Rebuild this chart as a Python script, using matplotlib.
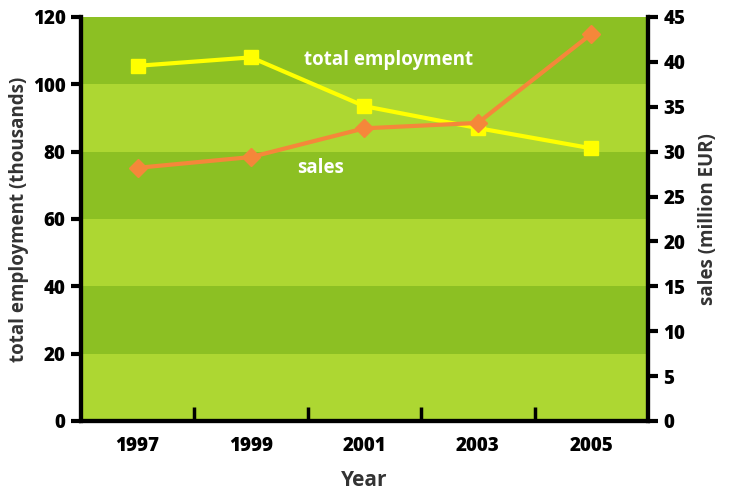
import matplotlib
matplotlib.use("Agg")
import matplotlib.pyplot as plt
import numpy as np

plt.rcParams['font.family'] = ['Open Sans', 'DejaVu Sans']

years = ["1997", "1999", "2001", "2003", "2005"]
employment = [105.5, 108.0, 93.5, 87.0, 81.0]      # thousands
sales = [28.2, 29.4, 32.6, 33.2, 43.1]              # million EUR
emp_ticks = [0, 20, 40, 60, 80, 100, 120]
sales_ticks = [0, 5, 10, 15, 20, 25, 30, 35, 40, 45]

dark_band = "#8cc023"
light_band = "#add732"
yellow = "#ffff00"
orange = "#f5873a"
label_grey = "#333333"

fig = plt.figure(figsize=(7.43, 4.91), dpi=100)
ax = fig.add_axes([0.109, 0.1426, 0.763, 0.8228])
ax2 = ax.twinx()

x = np.arange(len(years))

# alternating horizontal bands between the left-axis gridlines, darkest at the top
for i in range(len(emp_ticks) - 1):
    color = dark_band if (len(emp_ticks) - 2 - i) % 2 == 0 else light_band
    ax.axhspan(emp_ticks[i], emp_ticks[i + 1], color=color, zorder=0, lw=0)

ax.plot(x, employment, color=yellow, lw=3, marker="s", ms=9.5, zorder=3)
ax2.plot(x, sales, color=orange, lw=3, marker="D", ms=9, zorder=3)

ax.set_xlim(-0.5, len(years) - 0.5)
ax.set_ylim(emp_ticks[0], emp_ticks[-1])
ax2.set_ylim(sales_ticks[0], sales_ticks[-1])

ax.set_xticks(x)
ax.set_xticklabels(years)
ax.set_xticks(x[:-1] + 0.5, minor=True)
ax.tick_params(axis="x", which="major", length=0, pad=11)
ax.tick_params(axis="x", which="minor", direction="in", length=10, width=2.5, color="black")
ax.set_yticks(emp_ticks)
ax.tick_params(axis="y", direction="out", length=7, width=3, pad=4)
ax2.set_yticks(sales_ticks)
ax2.tick_params(axis="y", direction="out", length=7, width=3, pad=4)

for a in (ax, ax2):
    for lbl in a.get_xticklabels() + a.get_yticklabels():
        lbl.set_fontsize(13.5)
        lbl.set_fontweight(800)
        lbl.set_color("black")

for a in (ax, ax2):
    a.spines["top"].set_visible(False)
    for s in ("left", "right", "bottom"):
        a.spines[s].set_linewidth(3)
        a.spines[s].set_color("black")

ax.set_xlabel("Year", fontsize=15, fontweight="bold", color=label_grey, labelpad=10)
ax.set_ylabel("total employment (thousands)", fontsize=13.5, fontweight="bold",
              color=label_grey, labelpad=3)
ax2.set_ylabel("sales (million EUR)", fontsize=13.5, fontweight="bold",
               color=label_grey, labelpad=9)

ax.text(2.21, 107.2, "total employment", color="white", fontsize=13.5,
        fontweight="bold", ha="center", va="center", zorder=4)
ax.text(1.61, 75.2, "sales", color="white", fontsize=13.5,
        fontweight="bold", ha="center", va="center", zorder=4)

fig.savefig("out.png", dpi=100)
